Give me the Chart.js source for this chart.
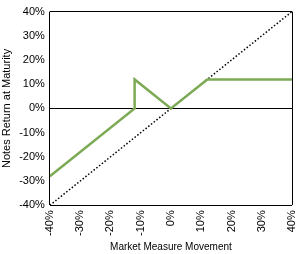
<!DOCTYPE html>
<html>
<head>
<meta charset="utf-8">
<script src="https://cdn.jsdelivr.net/npm/chart.js@4"></script>
<style>
  html, body { margin: 0; padding: 0; background: #fff; }
  #wrap { width: 300px; height: 254px; }
</style>
</head>
<body>
<div id="wrap"><canvas id="payoff-chart"></canvas></div>
<script>
// Market measure movement (x, %) and notes return (y, %)
const payoffX = [-40, -12, -12, 0, 12, 40];
const payoffY = [-28, 0, 12, 0, 12, 12];
// Reference 1:1 line
const refX = [-40, 40];
const refY = [-40, 40];
const tickStep = 10;

const pct = v => v + '%';
const boxLine = ctx => {
    const v = ctx.tick && ctx.tick.value;
    return (v === 0 || v === -40 || v === 40) ? '#000' : 'rgba(0,0,0,0)';
};
const boxLineX = ctx => {
    const v = ctx.tick && ctx.tick.value;
    return (v === -40 || v === 40) ? '#000' : 'rgba(0,0,0,0)';
};

const font = { family: 'Liberation Sans, Arial, sans-serif', size: 11 };

new Chart(document.getElementById('payoff-chart'), {
    type: 'line',
    data: {
        datasets: [
            {
                label: 'Notes',
                data: payoffX.map((x, i) => ({ x: x, y: payoffY[i] })),
                borderColor: '#7DAA55',
                borderWidth: 2.5,
                pointRadius: 0,
                tension: 0
            },
            {
                label: 'Market',
                data: refX.map((x, i) => ({ x: x, y: refY[i] })),
                borderColor: '#000',
                borderWidth: 1.5,
                borderDash: [1.5, 2],
                pointRadius: 0,
                tension: 0
            }
        ]
    },
    options: {
        responsive: true,
        maintainAspectRatio: false,
        animation: false,
        layout: { padding: { top: 3, right: 0, left: 0, bottom: 0 } },
        plugins: {
            legend: { display: false },
            tooltip: { enabled: false }
        },
        scales: {
            x: {
                type: 'linear',
                min: -40,
                max: 40,
                border: { display: false },
                grid: { color: boxLineX, drawTicks: false, lineWidth: 1 },
                ticks: {
                    stepSize: tickStep,
                    callback: pct,
                    maxRotation: 90,
                    minRotation: 90,
                    padding: 5,
                    color: '#000',
                    font: font
                },
                // rotated end label reserves too much room on the right
                afterFit: s => { s.paddingRight = 8; },
                title: {
                    display: true,
                    text: 'Market Measure Movement',
                    color: '#000',
                    font: { family: font.family, size: 10 },
                    padding: { top: 0, bottom: 1 }
                }
            },
            y: {
                min: -40,
                max: 40,
                border: { display: false },
                grid: { color: boxLine, drawTicks: false, lineWidth: 1 },
                ticks: {
                    stepSize: tickStep,
                    callback: pct,
                    padding: 5,
                    color: '#000',
                    font: font
                },
                title: {
                    display: true,
                    text: 'Notes Return at Maturity',
                    color: '#000',
                    font: font,
                    padding: { top: 0, bottom: 1 }
                }
            }
        }
    }
});
</script>
</body>
</html>
